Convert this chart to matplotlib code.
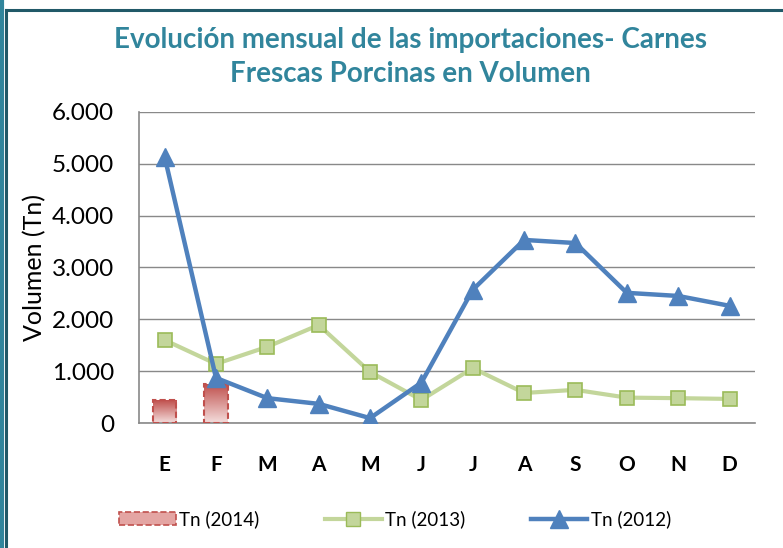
import numpy as np
import matplotlib
matplotlib.use("Agg")
import matplotlib.pyplot as plt
from matplotlib.patches import Rectangle, Patch
from matplotlib.lines import Line2D
from matplotlib.ticker import FuncFormatter

plt.rcParams['font.family'] = ['Lato', 'DejaVu Sans']

meses = ['E', 'F', 'M', 'A', 'M', 'J', 'J', 'A', 'S', 'O', 'N', 'D']
tn_2014 = [440, 750]
tn_2013 = [1600, 1140, 1470, 1890, 985, 445, 1060, 580, 640, 490, 480, 465]
tn_2012 = [5130, 870, 480, 370, 95, 780, 2570, 3530, 3470, 2510, 2450, 2260]

fig = plt.figure(figsize=(7.83, 5.48), dpi=100)
ax = fig.add_axes([0.1775, 0.228, 0.787, 0.568])

x = np.arange(len(meses))

# barras 2014 con degradado
grad = np.linspace(0, 1, 256).reshape(-1, 1)
cmap = matplotlib.colors.LinearSegmentedColormap.from_list('rojo', ['#F4DEDD', '#C0504D'])
w = 0.45
for i, v in enumerate(tn_2014):
    rect = Rectangle((x[i] - w / 2, 0), w, v, facecolor='none', edgecolor='#C0504D',
                     linestyle=(0, (3, 1.5)), linewidth=1.5, zorder=3)
    ax.add_patch(rect)
    im = ax.imshow(grad, extent=(x[i] - w / 2, x[i] + w / 2, 0, v), origin='lower',
                   cmap=cmap, aspect='auto', zorder=2)
    im.set_clip_path(rect)

ax.plot(x, tn_2013, color='#C3D69B', linewidth=3, marker='s', markersize=10,
        markerfacecolor='#C3D69B', markeredgecolor='#9BBB59', markeredgewidth=1.2, zorder=4)
ax.plot(x, tn_2012, color='#4F81BD', linewidth=3.2, marker='^', markersize=13,
        markerfacecolor='#4F81BD', markeredgecolor='#4F81BD', zorder=5)

ax.set_xlim(-0.5, 11.5)
ax.set_ylim(0, 6000)
ax.set_yticks(range(0, 6001, 1000))
ax.yaxis.set_major_formatter(FuncFormatter(lambda v, p: f"{int(v):,}".replace(',', '.')))
ax.set_xticks(x)
ax.set_xticklabels(meses, fontweight='bold', fontsize=15)
ax.tick_params(axis='y', labelsize=17.5, length=0, pad=18)
ax.tick_params(axis='x', length=0, pad=23)
ax.grid(axis='y', color='#898989', linewidth=1)
ax.set_axisbelow(True)
for s in ['top', 'right']:
    ax.spines[s].set_visible(False)
for s in ['left', 'bottom']:
    ax.spines[s].set_color('#898989')
    ax.spines[s].set_linewidth(1.2)
ax.set_ylabel('Volumen (Tn)', fontsize=18, labelpad=4)

fig.text(0.524, 0.896, 'Evolución mensual de las importaciones- Carnes\nFrescas Porcinas en Volumen',
         ha='center', va='center', fontsize=20, fontweight='bold', color='#31859C',
         linespacing=1.35)

handles = [
    Patch(facecolor='#E4A5A3', edgecolor='#C0504D', linestyle='--', linewidth=1.2),
    Line2D([], [], color='#C3D69B', linewidth=3, marker='s', markersize=10,
           markerfacecolor='#C3D69B', markeredgecolor='#9BBB59'),
    Line2D([], [], color='#4F81BD', linewidth=3.2, marker='^', markersize=13),
]
fig.legend(handles, ['Tn (2014)', 'Tn (2013)', 'Tn (2012)'], loc='center',
           bbox_to_anchor=(0.505, 0.052), ncol=3, frameon=False, fontsize=13.5,
           columnspacing=3.5, handlelength=3, handletextpad=0.2)

# borde del marco
fig.add_artist(Line2D([0.0025, 0.0025], [0, 1], color='#31859C', linewidth=3))
fig.add_artist(Line2D([0.0077, 0.0077], [0, 0.982], color='#215968', linewidth=2.2))
fig.add_artist(Line2D([0.0077, 1], [0.982, 0.982], color='#215968', linewidth=2.2))

fig.savefig('out.png', dpi=100)
